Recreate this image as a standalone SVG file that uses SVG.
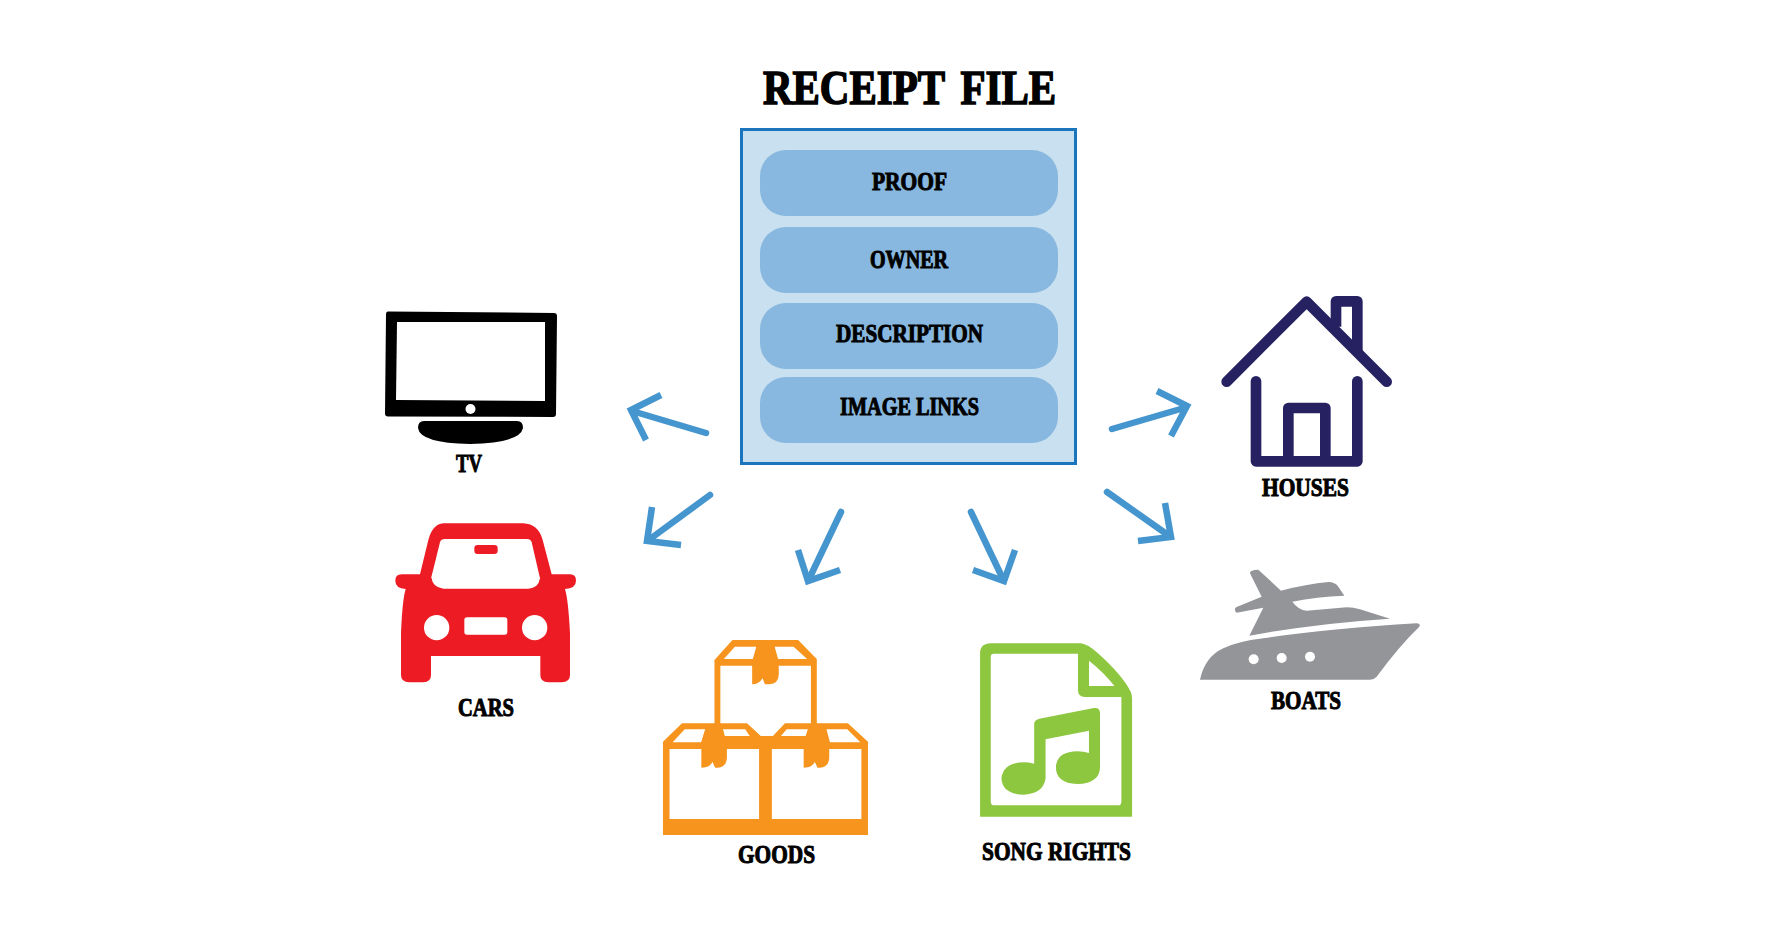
<svg xmlns="http://www.w3.org/2000/svg" width="1774" height="940" viewBox="0 0 1774 940">
<style>
text{font-family:"Liberation Serif","DejaVu Serif",serif;font-weight:700;fill:#000;stroke:#000;stroke-width:1px;text-anchor:start}
.l{font-size:25px}
.t{font-size:48px;stroke-width:1.6px;word-spacing:7px}
.pill{fill:#88b8df}
.arrow{fill:none;stroke:#4595cf;stroke-width:6.500;stroke-linecap:butt;stroke-linejoin:miter;stroke-miterlimit:10}
.shaft{fill:none;stroke:#4595cf;stroke-width:6.500;stroke-linecap:round}
.w{fill:#fff}
</style>
<rect width="1774" height="940" fill="#fff"/>
<g id="receipt-file">
<text class="t" x="763" y="103.500" textLength="293" lengthAdjust="spacingAndGlyphs">RECEIPT FILE</text>
<rect x="741.500" y="129.500" width="334" height="334" fill="#c9e0f0" stroke="#1b75bc" stroke-width="3"/>
<g id="proof"><rect class="pill" x="760" y="150" width="298" height="66" rx="26"/><text class="l" x="872" y="190" textLength="75" lengthAdjust="spacingAndGlyphs">PROOF</text></g>
<g id="owner"><rect class="pill" x="760" y="227" width="298" height="66" rx="26"/><text class="l" x="870" y="268" textLength="78" lengthAdjust="spacingAndGlyphs">OWNER</text></g>
<g id="description"><rect class="pill" x="760" y="303" width="298" height="66" rx="26"/><text class="l" x="836" y="342" textLength="147" lengthAdjust="spacingAndGlyphs">DESCRIPTION</text></g>
<g id="image-links"><rect class="pill" x="760" y="377" width="298" height="66" rx="26"/><text class="l" x="840" y="415" textLength="139" lengthAdjust="spacingAndGlyphs">IMAGE LINKS</text></g>
</g>
<g id="connectors">
<path class="shaft" d="M706,433L632,411"/><path class="arrow" d="M661,395L631,410L646,440"/>
<path class="shaft" d="M710,495L650,539"/><path class="arrow" d="M652,507L647,541L681,545"/>
<path class="shaft" d="M841,512L810,577"/><path class="arrow" d="M798,550L808,581L840,570"/>
<path class="shaft" d="M971,512L1002,577"/><path class="arrow" d="M973,570L1004,581L1015,550"/>
<path class="shaft" d="M1107,492L1168,535"/><path class="arrow" d="M1165,503L1171,537L1138,541"/>
<path class="shaft" d="M1112,429L1184,408"/><path class="arrow" d="M1157,391L1187,406L1171,436"/>
</g>
<g id="tv">
<path d="M388,311.500L554,313Q557,313 557,316L556,414Q556,417 553,417L388,416.500Q385,416.500 385,413.500L386,314.500Q386,311.500 388,311.500Z"/>
<path class="w" d="M397,322L545,322L545,401L396,400Z"/>
<circle class="w" cx="470.500" cy="409" r="5"/>
<path d="M424,421H517Q523,421 523,428Q520,443 470,444Q420,443 418,428Q418,421 424,421Z"/>
<text class="l" x="456" y="472" textLength="26" lengthAdjust="spacingAndGlyphs">TV</text>
</g>
<g id="cars">
<g transform="translate(360,290) scale(.33333)">
<path fill="#ed1c24" d="M250,700H490Q535,702 548,750L575,853H630Q648,853 648,872Q648,895 615,897Q625,930 630,1030V1155Q630,1177 605,1177H565Q541,1177 541,1155V1098H213V1155Q213,1177 190,1177H148Q123,1177 123,1155V1030Q127,930 137,897Q106,895 106,872Q106,853 125,853H180L205,750Q218,702 250,700Z"/>
<path class="w" d="M255,747H500Q512,747 515,757L540,865Q535,895 505,896H250Q218,893 214,862L240,757Q243,747 255,747Z"/>
<rect x="343" y="765" width="70" height="27" rx="10" fill="#ed1c24"/>
<circle class="w" cx="230" cy="1013" r="38"/><circle class="w" cx="524" cy="1013" r="38"/>
<rect class="w" x="313" y="982" width="129" height="52" rx="8"/>
</g>
<text class="l" x="458" y="716" textLength="56" lengthAdjust="spacingAndGlyphs">CARS</text>
</g>
<g id="goods">
<g transform="translate(639.800,490) scale(.3457,.33333)">
<path fill="#f7941d" d="M216,510L268,450H458L512,507V700H602L660,755V1035H67V755L122,700H216Z"/>
<path class="w" d="M233,527H495V700H420L385,738H350L310,700H233Z"/>
<path class="w" d="M243,507L275,470H337L327,507Z"/><path class="w" d="M390,470H445L484,507H400Z"/>
<path class="w" d="M95,757L130,718H190L178,757Z"/><path class="w" d="M240,718H305L318,738H245Z"/>
<path class="w" d="M408,738L425,718H487L482,738Z"/><path class="w" d="M540,718H600L638,757H550Z"/>
<rect class="w" x="86" y="777" width="259" height="210"/><rect class="w" x="382" y="777" width="259" height="210"/>
<g fill="#f7941d">
<path d="M340,465H388L402,530V555Q400,582 375,583H362L355,565Q345,583 325,583V525Z"/>
<path d="M190,715H240L252,765V805Q250,832 225,833H218L210,815Q205,833 178,833V757Z"/>
<path d="M487,715H536L548,765V805Q546,832 521,833H514L506,815Q501,833 474,833V757Z"/>
</g>
</g>
<text class="l" x="738" y="863" textLength="77" lengthAdjust="spacingAndGlyphs">GOODS</text>
</g>
<g id="song-rights">
<g transform="translate(639.500,490) scale(.3447,.33333)">
<path fill="#8dc63f" d="M988,490Q988,460 1020,460H1280Q1300,462 1330,490Q1400,555 1425,605Q1429,615 1429,625V980H988Z"/>
<path class="w" d="M1019,500Q1019,491 1028,491H1272V600Q1272,621 1292,621H1398V935Q1398,946 1388,946H1030Q1019,946 1019,935Z"/>
<path class="w" d="M1304,512Q1345,545 1378,588H1304Z"/>
<path fill="#8dc63f" d="M1145,700Q1147,690 1160,686L1318,654Q1336,652 1336,670V830Q1336,880 1270,882Q1208,880 1208,832Q1210,785 1270,784Q1290,784 1304,789V722L1178,748V865Q1172,912 1113,914Q1052,912 1050,865Q1055,818 1113,817Q1130,817 1145,821Z"/>
</g>
<text class="l" x="982" y="860" textLength="149" lengthAdjust="spacingAndGlyphs">SONG RIGHTS</text>
</g>
<g id="houses">
<g transform="translate(1090,280) scale(.33333)" fill="none" stroke="#262262" stroke-width="32" stroke-linecap="round" stroke-linejoin="round">
<path d="M410,305L650,65L890,305"/>
<path d="M738,140V64H802V215" stroke-linecap="butt"/>
<path d="M498,304V544H802V304"/>
<path d="M595,544V384H706V544" stroke-linecap="butt"/>
</g>
<text class="l" x="1262" y="496" textLength="87" lengthAdjust="spacingAndGlyphs">HOUSES</text>
</g>
<g id="boats">
<g transform="translate(1090,280) scale(.33333)">
<path fill="#939598" d="M330,1199Q345,1130 400,1105Q440,1085 520,1075Q720,1045 980,1030Q992,1030 988,1040Q930,1095 860,1190Q852,1199 840,1199Z"/>
<path fill="#939598" d="M478,1067L520,983L440,998Q430,990 438,982L515,950L480,880Q478,870 505,869L573,932Q650,912 715,906Q735,906 745,920L763,947Q680,950 607,965Q625,990 650,992L770,982Q790,982 810,988L900,1016Q680,1030 478,1067Z"/>
<circle class="w" cx="491" cy="1138" r="15"/><circle class="w" cx="575" cy="1134" r="15"/><circle class="w" cx="660" cy="1130" r="15"/>
</g>
<text class="l" x="1271" y="709" textLength="70" lengthAdjust="spacingAndGlyphs">BOATS</text>
</g>
</svg>
